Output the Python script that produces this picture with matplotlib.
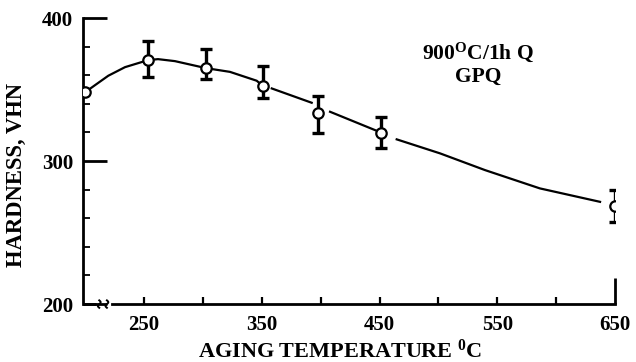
import numpy as np
import matplotlib
matplotlib.use("Agg")
import matplotlib.pyplot as plt

plt.rcParams["font.family"] = ["Liberation Serif", "DejaVu Serif"]
plt.rcParams["font.weight"] = "bold"
plt.rcParams["mathtext.fontset"] = "custom"
plt.rcParams["mathtext.rm"] = "Liberation Serif:bold"
plt.rcParams["mathtext.bf"] = "Liberation Serif:bold"
plt.rcParams["mathtext.it"] = "Liberation Serif:bold:italic"

temps = [200, 253, 303, 351, 398, 451, 650]
hardness = [348.5, 370.6, 364.8, 352.7, 333.8, 319.4, 268.5]
# error bar ends (first point has none)
err_top = [np.nan, 383.9, 378.3, 366.4, 345.5, 330.8, 279.7]
err_bot = [np.nan, 359.0, 357.3, 343.8, 319.6, 309.3, 257.5]

# hand-drawn fitting curve, nan = gap in the line
curve_t = [200.6, 208.4, 219.7, 233.9, 253.4, 261.9, 276.3, 302.7, 323.0, 345.7, 350.8,
           np.nan, 358.5, 392.4,
           np.nan, 408.0, 447.6,
           np.nan, 464.6, 501.4, 539.6, 586.2, 637.3]
curve_h = [348.5, 353.1, 359.7, 365.7, 370.6, 371.3, 369.9, 365.0, 362.4, 356.2, 352.7,
           np.nan, 350.8, 340.8,
           np.nan, 334.5, 321.2,
           np.nan, 315.2, 305.4, 293.7, 280.9, 271.5]

x_ticks = [250, 350, 450, 550, 650]
x_minor = [300, 400, 500, 600]
y_ticks = [200, 300, 400]
y_minor = [220, 240, 260, 280, 320, 340, 360, 380]

xmin = 198.2

fig = plt.figure(figsize=(6.36, 3.62), dpi=100)
ax = fig.add_axes([0.1305, 0.160, 0.8365, 0.790])

ax.plot(curve_t, curve_h, color="black", lw=1.6, zorder=2)

t = np.array(temps)
h = np.array(hardness)
top = np.array(err_top)
bot = np.array(err_bot)
m = ~np.isnan(top)
ax.errorbar(t[m], h[m], yerr=[h[m] - bot[m], top[m] - h[m]], fmt="none",
            ecolor="black", elinewidth=2.4, capsize=4, capthick=2.4, zorder=3)
ax.plot(t, h, "o", ms=7.5, mfc="white", mec="black", mew=1.6, zorder=4)

ax.set_xlim(xmin, 650)
ax.set_ylim(200, 400)

for s in ["top", "right"]:
    ax.spines[s].set_visible(False)
for s in ["left", "bottom"]:
    ax.spines[s].set_linewidth(2.0)
ax.spines["bottom"].set_bounds(222.5, 650)

# axis break on the temperature axis
ax.plot([xmin, 209.0], [200, 200], color="black", lw=2.0, clip_on=False,
        solid_capstyle="butt", zorder=5)
for x0 in [212.0, 218.5]:
    ss = np.linspace(-1, 1, 20)
    ax.plot(x0 + 1.2 * np.sin(ss * np.pi), 200 + 2.6 * ss, color="black",
            lw=1.4, clip_on=False, zorder=5)

ax.set_xticks(x_ticks)
ax.set_xticks(x_minor, minor=True)
ax.set_yticks(y_ticks)
ax.set_yticks(y_minor, minor=True)
ax.tick_params(axis="x", which="both", direction="in", length=5, width=1.6,
               pad=8, labelsize=15)
ax.tick_params(axis="y", which="major", direction="in", length=17, width=2.0,
               pad=7, labelsize=15)
ax.tick_params(axis="y", which="minor", direction="in", length=5, width=1.3)
ax.xaxis.get_major_ticks()[-1].tick1line.set_markersize(19)
ax.xaxis.get_major_ticks()[-1].tick1line.set_markeredgewidth(2.0)
for lab in ax.get_xticklabels() + ax.get_yticklabels():
    lab.set_fontweight("bold")

ax.set_xlabel(r"AGING TEMPERATURE $^{0}$C", fontsize=16, fontweight="bold")
ax.set_ylabel("HARDNESS, VHN", fontsize=16.3, fontweight="bold")
ax.xaxis.set_label_coords(0.483, -0.125)
ax.yaxis.set_label_coords(-0.105, 0.453)

ax.text(0.742, 0.88, r"900$^{\mathrm{O}}$C/1h Q", transform=ax.transAxes,
        ha="center", va="center", fontsize=15.5, fontweight="bold")
ax.text(0.742, 0.795, "GPQ", transform=ax.transAxes,
        ha="center", va="center", fontsize=15.5, fontweight="bold")

fig.savefig("out.png", dpi=100)
